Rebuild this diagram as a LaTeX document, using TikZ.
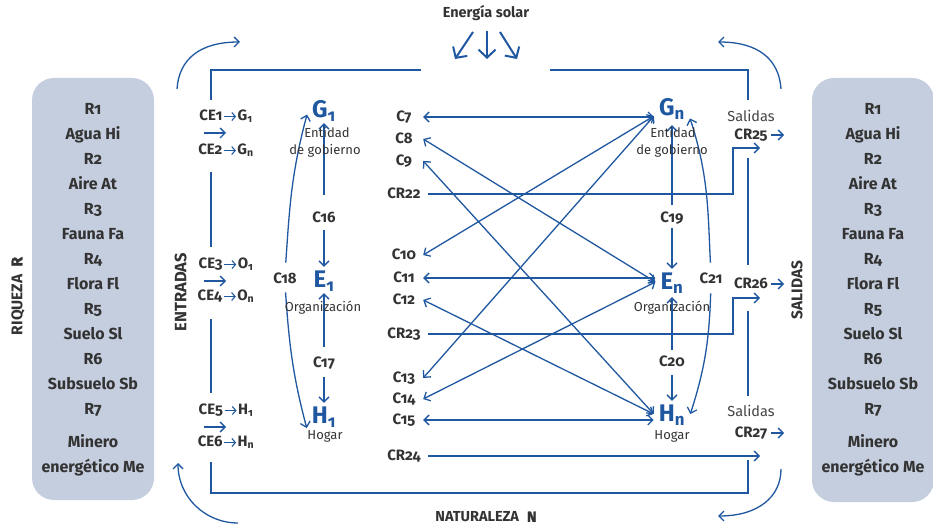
\documentclass[tikz,border=0pt]{standalone}
\usepackage{fontspec}
\setmainfont[Numbers=OldStyle]{Fira Sans}
\newfontfamily\heavyfont[Numbers=OldStyle,BoldFeatures={FakeBold=1.5}]{Fira Sans}
\usetikzlibrary{arrows.meta,calc}
\definecolor{flow}{HTML}{1F58A0}
\definecolor{inkc}{HTML}{333333}
\definecolor{softc}{HTML}{444444}
\definecolor{panelc}{HTML}{C5CEDE}
\newcommand{\tor}{\kern1pt\tikz[baseline=0pt]\draw[draw=flow, line width=1.1pt,
  -{Straight Barb[length=3.5pt,width=8pt]}] (0pt,4.2pt) -- (12pt,4.2pt);\kern1pt}
\newcommand{\sbs}[1]{\textsubscript{#1}}

\begin{document}
\begin{tikzpicture}[x=1pt,y=1pt,
  every node/.style={inner sep=0pt, text=inkc},
  fbarb/.tip={Straight Barb[length=5pt,width=10pt]},
  sunbarb/.tip={Straight Barb[length=8pt,width=17pt]},
  pipe/.style={draw=flow, line width=1.3pt},
  link/.style={pipe, -fbarb},
  both/.style={pipe, fbarb-fbarb},
  sunray/.style={draw=flow, line width=2pt, -sunbarb},
  clab/.style={font=\fontsize{15}{17}\selectfont\bfseries, minimum width=38pt,
               text height=10pt, text depth=0.5pt},
  vlab/.style={font=\fontsize{15}{17}\selectfont\bfseries,
               text height=10pt, text depth=0.5pt},
  ptxt/.style={font=\fontsize{16}{19}\selectfont\bfseries, anchor=base},
  hub/.style={font=\fontsize{24}{27}\selectfont\bfseries, text=flow, anchor=base,
              inner sep=5pt, text height=16pt, text depth=0pt},
  role/.style={font=\fontsize{13}{15}\selectfont, text height=9pt, text depth=3pt},
  salida/.style={font=\fontsize{14.5}{16}\selectfont, text=softc, text height=9.5pt, text depth=0.5pt},
  side/.style={font=\fontsize{16.5}{18}\selectfont\bfseries, rotate=90, text height=11pt, text depth=0.5pt}
]
\useasboundingbox (0,0) rectangle (933,527);

% resource panels
\path[fill=panelc, rounded corners=22pt] (32,27) rectangle (154,449);
\path[fill=panelc, rounded corners=22pt] (812,25) rectangle (934,449);
\foreach \t [count=\i from 0] in {R1,Agua Hi,R2,Aire At,R3,Fauna Fa,R4,Flora Fl,R5,Suelo Sl,R6,Subsuelo Sb,R7}{
  \node[ptxt] (lr\i) at (93,{412.5-25*\i}) {\t};
  \node[ptxt] (rr\i) at (873,{412.5-25*\i}) {\t};
}
\node[ptxt] (lr13) at (93,79.5) {Minero};
\node[ptxt] (lr14) at (93,54.5) {energético Me};
\node[ptxt] (rr13) at (873,79.5) {Minero};
\node[ptxt] (rr14) at (873,54.5) {energético Me};

% side titles
\node[side, font=\fontsize{15.5}{17}\selectfont\bfseries] (riq) at (17,231) {RIQUEZA\hspace{8pt}{\heavyfont\bfseries R}};
\node[side] (ent) at (181,235) {ENTRADAS};
\node[side, font=\fontsize{15.5}{17}\selectfont\bfseries] (sal) at (797,237) {SALIDAS};
\node[vlab, font=\fontsize{14.5}{16}\selectfont\bfseries] (sun) at (486,514) {Energía solar};
\node[vlab, font=\fontsize{14.5}{16}\selectfont\bfseries] (nat) at (486,10) {NATURALEZA\hspace{8pt}{\heavyfont\bfseries N}};

% solar input
\coordinate (sa0) at (473,495); \coordinate (sa1) at (455,468);
\coordinate (sb0) at (487,496); \coordinate (sb1) at (487,468);
\coordinate (sc0) at (500,495); \coordinate (sc1) at (517,468);
\draw[sunray] (sa0) -- (sa1);
\draw[sunray] (sb0) -- (sb1);
\draw[sunray] (sc0) -- (sc1);

% system frame (open where labels sit)
\draw[pipe] (211,427) -- (211,457) -- (421,457);
\draw[pipe] (550,457) -- (748,457) -- (748,427);
\draw[pipe] (748,369) -- (748,262);
\draw[pipe] (748,216) -- (748,131);
\draw[pipe] (748,67) -- (748,34) -- (211,34) -- (211,65);
\draw[pipe] (211,355) -- (211,280);
\draw[pipe] (211,208) -- (211,134);

% exchanges with the resource panels
\coordinate (tl0) at (177,438); \coordinate (tl1) at (240,485);
\coordinate (tr0) at (781,438); \coordinate (tr1) at (718,485);
\coordinate (bl0) at (238,4);   \coordinate (bl1) at (178,64);
\coordinate (br0) at (781,58);  \coordinate (br1) at (718,11);
\draw[link] (tl0) .. controls (179,468) and (200,485) .. (tl1);
\draw[link] (tr0) .. controls (779,468) and (758,485) .. (tr1);
\draw[link] (bl0) .. controls (205,4) and (178,30) .. (bl1);
\draw[link] (br0) .. controls (781,30) and (758,11) .. (br1);

% inputs
\node[clab] (ce1) at (226,411) {CE1\tor G\sbs{1}};
\node[clab] (ce2) at (226,377) {CE2\tor G\sbs{n}};
\node[clab] (ce3) at (226,263) {CE3\tor O\sbs{1}};
\node[clab] (ce4) at (226,231) {CE4\tor O\sbs{n}};
\node[clab] (ce5) at (226,117) {CE5\tor H\sbs{1}};
\node[clab] (ce6) at (226,85)  {CE6\tor H\sbs{n}};
\coordinate (q1a) at (204,394); \coordinate (q1b) at (226,394);
\coordinate (q2a) at (204,246); \coordinate (q2b) at (226,246);
\coordinate (q3a) at (204,100); \coordinate (q3b) at (226,100);
\draw[link] (q1a) -- (q1b);
\draw[link] (q2a) -- (q2b);
\draw[link] (q3a) -- (q3b);

% actors
\node[hub] (g1) at (324,409) {G\sbs{1}};
\node[hub] (e1) at (324,239) {E\sbs{1}};
\node[hub] (h1) at (324,103) {H\sbs{1}};
\node[hub] (gn) at (672,411) {G\sbs{n}};
\node[hub] (en) at (672,237) {E\sbs{n}};
\node[hub] (hn) at (672,105) {H\sbs{n}};

\node[vlab] (c16) at (324,309) {C16};
\node[vlab] (c17) at (324,164) {C17};
\node[vlab] (c19) at (672,309) {C19};
\node[vlab] (c20) at (672,165) {C20};
\node[vlab] (c18) at (285,248) {C18};
\node[vlab] (c21) at (711,248) {C21};

% flows inside each group
\draw[link, shorten <=18pt] (c16.north) -- (g1.south);
\draw[link, shorten <=7pt] (c16.south) -- (e1.north);
\draw[link, shorten <=11pt] (c17.north) -- (e1.south);
\draw[link, shorten <=9pt] (c17.south) -- (h1.north);
\draw[link, shorten <=8pt, shorten >=4pt] (c19.north) -- (gn.south);
\draw[link, shorten <=5pt] (c19.south) -- (en.north);
\draw[link, shorten <=7pt, shorten >=2pt] (c20.north) -- (en.south);
\draw[link, shorten <=8pt] (c20.south) -- (hn.north);
\draw[link, shorten <=11pt] (c18.north) to[out=86, in=-105] (g1.195);
\draw[link, shorten <=8pt] (c18.south) to[out=-86, in=105] (h1.215);
\draw[link, shorten <=11pt] (c21.north) to[out=93, in=-72] (gn.-30);
\draw[link, shorten <=9pt] (c21.south) to[out=-92, in=72] (hn.east);

% cross flows
\node[clab] (c7)   at (404,410) {C7};
\node[clab] (c8)   at (404,388) {C8};
\node[clab] (c9)   at (404,366) {C9};
\node[clab] (cr22) at (404,333) {CR22};
\node[clab] (c10)  at (404,272) {C10};
\node[clab] (c11)  at (404,249) {C11};
\node[clab] (c12)  at (404,227) {C12};
\node[clab] (cr23) at (404,193) {CR23};
\node[clab] (c13)  at (404,149) {C13};
\node[clab] (c14)  at (404,128) {C14};
\node[clab] (c15)  at (404,107) {C15};
\node[clab] (cr24) at (404,71)  {CR24};

\draw[both] (c7.east) -- (c7.east -| gn.base west);
\draw[both] (c8.east) -- (en.west);
\draw[both] (c9.east) -- (hn.west);
\draw[both] (c10.east) -- (gn.base west);
\draw[both] (c11.east) -- (c11.east -| en.west);
\draw[both] (c12.east) -- (hn.west);
\draw[both] (c13.east) -- (gn.base west);
\draw[both] (c14.east) -- (en.west);
\draw[both] (c15.east) -- (c15.east -| hn.west);

% outputs
\node[salida] (sl1) at (751,410) {Salidas};
\node[clab] (cr25) at (751,392) {CR25};
\node[clab] (cr26) at (751,243) {CR26};
\node[salida] (sl2) at (751,115) {Salidas};
\node[clab] (cr27) at (751,94) {CR27};
\coordinate (t25) at (784,392);
\coordinate (t26) at (784,243);
\coordinate (t27) at (784,94);
\draw[link, shorten <=1pt] (cr25.east) -- (cr25.east -| t25);
\draw[link, shorten <=1pt] (cr26.east) -- (cr26.east -| t26);
\draw[link, shorten <=1pt] (cr27.east) -- (cr27.east -| t27);

\coordinate (j25) at (733,379); \coordinate (s25) at (760,379);
\coordinate (j26) at (733,229); \coordinate (s26) at (760,229);
\coordinate (s27) at (760,71);
\draw[link, shorten <=5pt] (cr22.east) -- (cr22.east -| j25) -- (j25) -- (s25);
\draw[link, shorten <=5pt] (cr23.east) -- (cr23.east -| j26) -- (j26) -- (s26);
\draw[link, shorten <=5pt] (cr24.east) -- (cr24.east -| s27);

% actor roles
\node[role] (g1r1) at (327,392) {Entidad};
\node[role] (g1r2) at (325,375) {de gobierno};
\node[role] (e1r)  at (323,218) {Organización};
\node[role] (h1r)  at (325,90)  {Hogar};
\node[role] (gnr1) at (673,392) {Entidad};
\node[role] (gnr2) at (672,375) {de gobierno};
\node[role] (enr)  at (672,218) {Organización};
\node[role] (hnr)  at (672,90)  {Hogar};
\end{tikzpicture}
\end{document}
